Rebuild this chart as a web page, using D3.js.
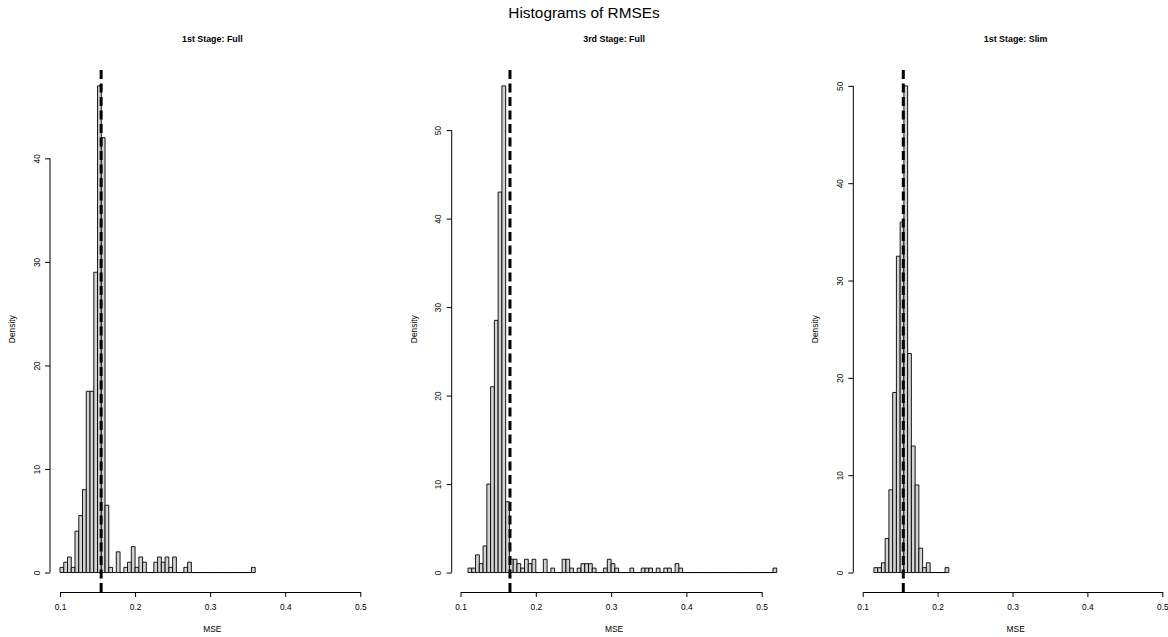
<!DOCTYPE html>
<html>
<head>
<meta charset="utf-8">
<script src="https://cdn.jsdelivr.net/npm/d3@7"></script>
<style>
  html, body { margin: 0; padding: 0; background: #ffffff; }
  svg { display: block; font-family: "Liberation Sans", Arial, Helvetica, sans-serif; }
</style>
</head>
<body>
<svg id="chart" width="1168" height="637"></svg>
<script>
// ---------------- data ----------------
const mainTitle = "Histograms of RMSEs";
const panelTitles = ["1st Stage: Full", "3rd Stage: Full", "1st Stage: Slim"];
const xLabel = "MSE";
const yLabel = "Density";
const binWidth = 0.005;

// first break of each histogram
const binStarts = [0.100, 0.110, 0.115];

// densities per bin (bins of width 0.005)
const densityFull1 = [
  0.5, 1.0, 1.5, 0.5, 4.0, 5.5, 8.0, 17.5, 17.5, 29.0, 47.0, 42.0, 6.5, 0.5,
  0, 2.0, 0, 0.5, 1.0, 2.5, 0.5, 1.5, 1.0, 0, 0, 1.0, 1.5, 1.0, 1.5, 0.5, 1.5,
  0, 0, 0.5, 1.0,
  0, 0, 0, 0, 0, 0, 0, 0, 0, 0, 0, 0, 0, 0, 0, 0,
  0.5
];
const densityFull3 = [
  0.5, 0.5, 2.0, 1.0, 3.0, 10.0, 21.0, 28.5, 43.0, 55.0, 8.0,
  1.5, 1.5, 1.0, 0.5, 1.5, 1.0, 1.5, 0, 0, 1.5, 0, 0.5, 0, 0,
  1.5, 1.5, 0.5, 0, 0.5, 1.0, 1.0, 1.0, 0.5, 0, 0,
  0.5, 1.5, 1.0, 0.5, 0, 0, 0, 0.5, 0, 0, 0.5, 0.5, 0.5, 0, 0.5, 0,
  0.5, 0.5, 0, 1.0, 0.5,
  0, 0, 0, 0, 0, 0, 0, 0, 0, 0, 0, 0, 0, 0, 0, 0, 0, 0, 0, 0, 0, 0, 0, 0,
  0.5
];
const densitySlim1 = [
  0.5, 0.5, 1.0, 3.5, 8.5, 18.5, 32.5, 36.0, 50.0, 22.5, 13.0, 9.0, 2.5, 0.5, 1.0,
  0, 0, 0, 0, 0.5
];
const densities = [densityFull1, densityFull3, densitySlim1];

// mean RMSE (dashed vertical lines)
const means = [0.1548, 0.1657, 0.1542];

const xTicks = [0.1, 0.2, 0.3, 0.4, 0.5];
const yTicksFull1 = [0, 10, 20, 30, 40];
const yTicksFull3 = [0, 10, 20, 30, 40, 50];
const yTicksSlim1 = [0, 10, 20, 30, 40, 50];
const yTicks = [yTicksFull1, yTicksFull3, yTicksSlim1];

// ---------------- layout ----------------
const svg = d3.select("#chart");
const plotTop = 66.4, plotBottom = 592;
const layout = [
  { axisX: 50.0,  x01: 60.0,  x05: 360.3 },
  { axisX: 451.7, x01: 460.5, x05: 761.7 },
  { axisX: 853.3, x01: 862.7, x05: 1162.3 }
];
const plotWidth = 324.7;
const tickLen = 5;
const fs = 8.4;

svg.append("text")
  .attr("x", 584).attr("y", 18)
  .attr("text-anchor", "middle")
  .attr("font-size", 15.4)
  .text(mainTitle);

densities.forEach((dens, p) => {
  const L = layout[p];
  const g = svg.append("g");
  const bins = dens.map((d, i) => ({
    x0: binStarts[p] + i * binWidth,
    x1: binStarts[p] + (i + 1) * binWidth,
    d: d
  }));
  const ymax = d3.max(dens);
  const x = d3.scaleLinear().domain([0.1, 0.5]).range([L.x01, L.x05]);
  const y = d3.scaleLinear().domain([-0.04 * ymax, 1.04 * ymax]).range([plotBottom, plotTop]);

  // bars (paths so that empty bins still show as a baseline segment)
  g.selectAll("path.bar").data(bins).enter().append("path")
    .attr("class", "bar")
    .attr("d", b => {
      const x0 = x(b.x0), x1 = x(b.x1), y0 = y(0), y1 = y(b.d);
      return `M${x0},${y0}H${x1}V${y1}H${x0}Z`;
    })
    .attr("fill", "#d3d3d3")
    .attr("stroke", "#000")
    .attr("stroke-width", 0.9);

  // mean line
  g.append("line")
    .attr("x1", x(means[p])).attr("x2", x(means[p]))
    .attr("y1", plotBottom).attr("y2", plotTop)
    .attr("stroke", "#000")
    .attr("stroke-width", 3)
    .attr("stroke-dasharray", "9,4.5");

  // x axis
  const xa = d3.axisBottom(x).tickValues(xTicks).tickSize(tickLen).tickSizeOuter(0)
    .tickFormat(d3.format(".1f"));
  const gx = g.append("g").attr("transform", `translate(0,${plotBottom})`).call(xa);
  gx.select(".domain").attr("stroke", "#000");
  gx.selectAll(".tick line").attr("stroke", "#000");
  gx.selectAll(".tick text").attr("font-size", fs).attr("font-family", "Liberation Sans, Arial, sans-serif")
    .attr("fill", "#000").attr("y", 15.5).attr("dy", "0.32em");

  // y axis (axis line only spans first to last tick, as in R)
  const yt = yTicks[p];
  const ya = d3.axisLeft(y).tickValues(yt).tickSize(tickLen).tickSizeOuter(0)
    .tickFormat(d3.format("d"));
  const gy = g.append("g").attr("transform", `translate(${L.axisX},0)`).call(ya);
  gy.select(".domain").remove();
  gy.append("line")
    .attr("x1", 0).attr("x2", 0)
    .attr("y1", y(d3.min(yt))).attr("y2", y(d3.max(yt)))
    .attr("stroke", "#000");
  gy.selectAll(".tick line").attr("stroke", "#000");
  gy.selectAll(".tick text")
    .attr("font-size", fs).attr("font-family", "Liberation Sans, Arial, sans-serif")
    .attr("fill", "#000")
    .attr("x", null).attr("dy", null)
    .attr("text-anchor", "middle")
    .attr("transform", "translate(-10.5,0) rotate(-90)");

  const cx = L.axisX + plotWidth / 2;
  g.append("text")
    .attr("x", cx).attr("y", 41.5)
    .attr("text-anchor", "middle")
    .attr("font-size", 8.9).attr("font-weight", "bold")
    .text(panelTitles[p]);
  g.append("text")
    .attr("x", cx).attr("y", 632)
    .attr("text-anchor", "middle")
    .attr("font-size", fs)
    .text(xLabel);
  g.append("text")
    .attr("transform", `translate(${L.axisX - 35},${(plotTop + plotBottom) / 2}) rotate(-90)`)
    .attr("text-anchor", "middle")
    .attr("font-size", fs)
    .text(yLabel);
});
</script>
</body>
</html>
